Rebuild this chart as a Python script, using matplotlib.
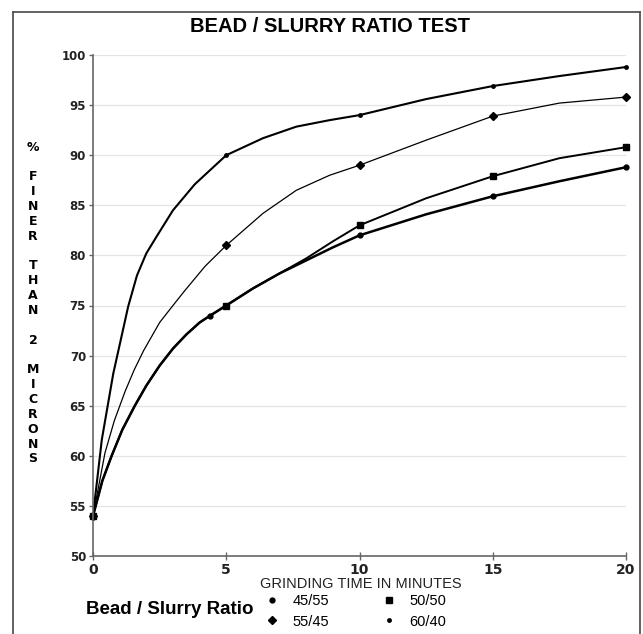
import matplotlib
matplotlib.use("Agg")
import matplotlib.pyplot as plt
from matplotlib.lines import Line2D

# traced curves (minutes, % finer than 2 microns)
t_6040 = [0, 0.33, 0.76, 1.32, 1.65, 2.0, 2.39, 3.0, 3.82, 5, 6.38, 7.63, 8.88, 10, 12.5, 15, 17.5, 20]
v_6040 = [54, 61.6, 68.2, 74.9, 78.0, 80.2, 81.9, 84.5, 87.1, 90.0, 91.7, 92.85, 93.5, 94.0, 95.6, 96.9, 97.9, 98.8]

t_5545 = [0, 0.45, 0.8, 1.2, 1.55, 1.9, 2.5, 3.0, 3.45, 4.2, 5, 6.38, 7.63, 8.88, 10, 12.5, 15, 17.5, 20]
v_5545 = [54, 60.3, 63.5, 66.4, 68.6, 70.5, 73.3, 75.0, 76.5, 78.9, 81.0, 84.2, 86.5, 88.0, 89.0, 91.5, 93.9, 95.2, 95.8]

t_5050 = [0, 0.35, 0.7, 1.1, 1.57, 2.0, 2.5, 3.0, 3.5, 4.0, 4.4, 5, 6, 7, 8, 9, 10, 12.5, 15, 17.5, 20]
v_5050 = [54, 57.5, 60.0, 62.6, 65.0, 67.0, 69.0, 70.7, 72.1, 73.3, 74.0, 75.0, 76.7, 78.2, 79.7, 81.4, 83.0, 85.7, 87.9, 89.7, 90.8]

t_4555 = [0, 0.35, 0.7, 1.1, 1.57, 2.0, 2.5, 3.0, 3.5, 4.0, 4.4, 5, 6, 7, 8, 9, 10, 12.5, 15, 17.5, 20]
v_4555 = [54, 57.5, 60.0, 62.6, 65.0, 67.0, 69.0, 70.7, 72.1, 73.3, 74.0, 75.0, 76.7, 78.2, 79.5, 80.8, 82.0, 84.1, 85.9, 87.4, 88.8]

# plotted sample points
pt_6040 = ([0, 5, 10, 15, 20], [54, 90.0, 94.0, 96.9, 98.8])
pt_5545 = ([0, 5, 10, 15, 20], [54, 81.0, 89.0, 93.9, 95.8])
pt_5050 = ([0, 5, 10, 15, 20], [54, 75.0, 83.0, 87.9, 90.8])
pt_4555 = ([0, 4.4, 10, 15, 20], [54, 74.0, 82.0, 85.9, 88.8])

x_ticks = [0, 5, 10, 15, 20]
y_ticks = [50, 55, 60, 65, 70, 75, 80, 85, 90, 95, 100]
labels = ["45/55", "55/45", "50/50", "60/40"]

W, H = 643, 634
fig = plt.figure(figsize=(W / 100, H / 100), dpi=100)
ax = fig.add_axes([93 / W, 1 - 556 / H, (626 - 93) / W, (556 - 55) / H])

ax.set_xlim(0, 20)
ax.set_ylim(50, 100)
for y in y_ticks[1:]:
    ax.axhline(y, color="#e4e4e4", lw=0.9, zorder=0)

ax.plot(t_6040, v_6040, color="black", lw=1.5)
ax.plot(t_5545, v_5545, color="black", lw=0.9)
ax.plot(t_5050, v_5050, color="black", lw=1.4)
ax.plot(t_4555, v_4555, color="black", lw=1.8)

ax.plot(*pt_6040, ls="none", marker="o", ms=2.5, color="black", clip_on=False)
ax.plot(*pt_5545, ls="none", marker="D", ms=4, color="black", clip_on=False)
ax.plot(*pt_5050, ls="none", marker="s", ms=4.5, color="black", clip_on=False)
ax.plot(*pt_4555, ls="none", marker="o", ms=3.5, color="black", clip_on=False)

for s in ["top", "right"]:
    ax.spines[s].set_visible(False)
for s in ["left", "bottom"]:
    ax.spines[s].set_color("#666666")
    ax.spines[s].set_linewidth(1.2)

ax.set_xticks(x_ticks)
ax.set_yticks(y_ticks)
ax.tick_params(axis="x", direction="inout", length=6, width=1, color="#666666",
               labelsize=10, pad=2)
ax.tick_params(axis="y", direction="out", length=3, width=1, color="#666666",
               labelsize=8.5, pad=2)
for lab in ax.get_xticklabels() + ax.get_yticklabels():
    lab.set_fontweight("bold")
    lab.set_color("#222222")

arial = ["Liberation Sans", "DejaVu Sans"]
fig.text(330 / W, 1 - 26 / H, "BEAD / SLURRY RATIO TEST", ha="center", va="center",
         fontsize=14.5, fontweight="bold", family=arial)

ylab = "\n".join(["%", "", "F", "I", "N", "E", "R", "", "T", "H", "A", "N",
                  "", "2", "", "M", "I", "C", "R", "O", "N", "S"])
fig.text(33 / W, 1 - 303 / H, ylab, ha="center", va="center", fontsize=9,
         fontweight="bold", linespacing=1.185)

fig.text(361 / W, 1 - 584 / H, "GRINDING TIME IN MINUTES", ha="center", va="center",
         fontsize=10.5, family=arial, color="#222222")

fig.text(86 / W, 1 - 610 / H, "Bead / Slurry Ratio", ha="left", va="center",
         fontsize=13.5, fontweight="bold", family=arial)

handles = [
    Line2D([], [], ls="none", marker="o", ms=3.5, color="black"),
    Line2D([], [], ls="none", marker="D", ms=4, color="black"),
    Line2D([], [], ls="none", marker="s", ms=4.5, color="black"),
    Line2D([], [], ls="none", marker="o", ms=2.5, color="black"),
]
fig.legend(handles, labels, loc="upper left", bbox_to_anchor=(266 / W, 1 - 594 / H),
           ncol=2, frameon=False, handlelength=0.8, handletextpad=1.0,
           columnspacing=3.7, labelspacing=0.45, borderpad=0, borderaxespad=0,
           prop={"family": arial, "size": 10.5})

# outer frame
fc = "#555555"
fig.add_artist(Line2D([13 / W, 13 / W], [0, 1 - 12 / H], color=fc, lw=1.3))
fig.add_artist(Line2D([13 / W, 640 / W], [1 - 12 / H, 1 - 12 / H], color=fc, lw=1.3))
fig.add_artist(Line2D([640 / W, 640 / W], [0, 1 - 12 / H], color=fc, lw=1.3))

fig.savefig("out.png", dpi=100, facecolor="white")
